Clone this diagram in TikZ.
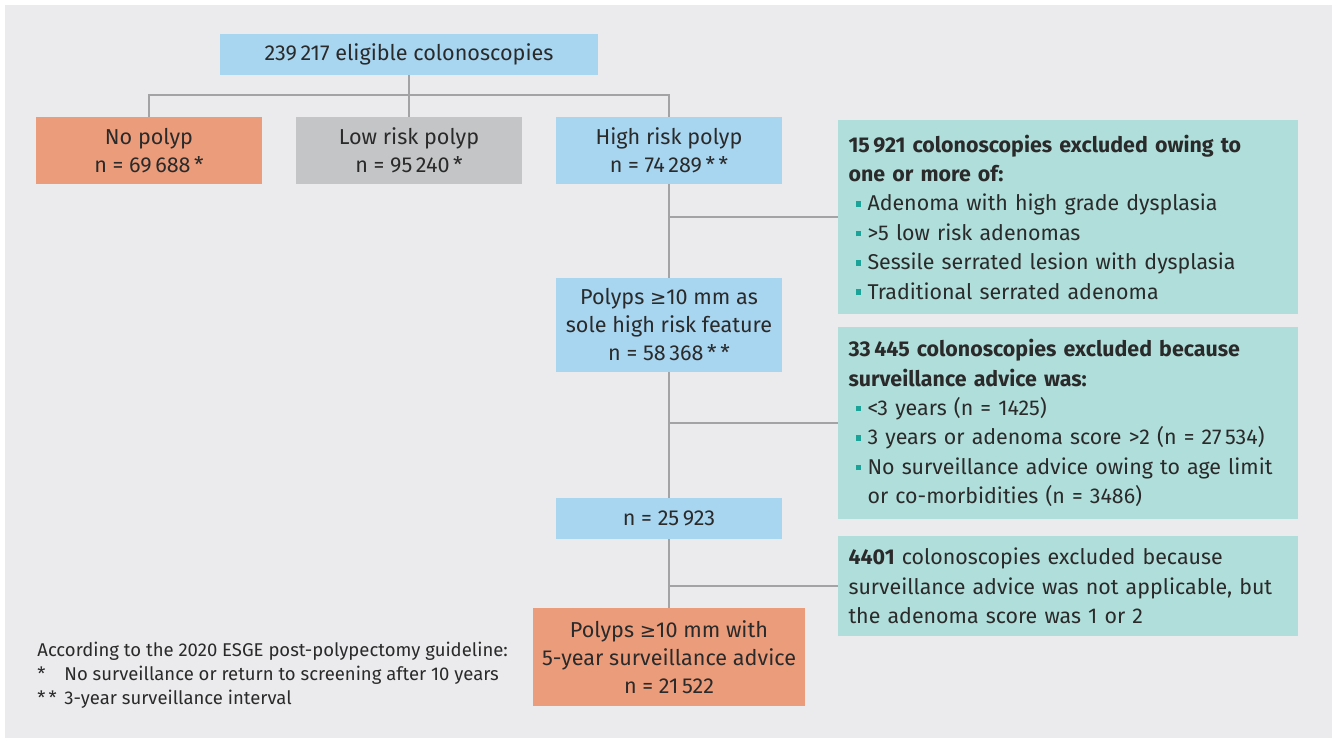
\documentclass[tikz,border=0pt]{standalone}
\usepackage{fontspec}
\setmainfont{Fira Sans}
\newfontfamily\symfont{DejaVu Sans}
\definecolor{panelc}{HTML}{EBEBEE}
\definecolor{bluec}{HTML}{A8D5F0}
\definecolor{salmonc}{HTML}{EB9C7B}
\definecolor{grayc}{HTML}{C4C5C7}
\definecolor{tealc}{HTML}{B0DEDA}
\definecolor{bulc}{HTML}{1BA39A}
\definecolor{linec}{HTML}{A3A3A5}
\definecolor{textc}{HTML}{2A2A2A}
\newcommand{\bul}{\hspace*{3.5pt}\makebox[6pt][l]{\textcolor{bulc}{\rule[2pt]{2.8pt}{2.8pt}}}}
\newcommand{\geqsym}{{\symfont\scalebox{0.9}{≥}}}
\begin{document}
\begin{tikzpicture}[x=0.5pt,y=-0.5pt,
  every node/.style={text=textc, font=\fontsize{10.8}{14}\selectfont},
  box/.style={rectangle, inner sep=0pt, align=center, minimum width=113pt},
  bluebox/.style={box, fill=bluec},
  salmonbox/.style={box, fill=salmonc},
  graybox/.style={box, fill=grayc},
  exclbox/.style={rectangle, fill=tealc, inner sep=0pt, minimum width=230pt, text width=219.5pt, align=left, font=\fontsize{10.7}{14.7}\selectfont},
  conn/.style={draw=linec, line width=1.25pt}]
\fill[white] (0,0) rectangle (1332,738);
\fill[panelc] (5,5) rectangle (1332,738);
\useasboundingbox (0,0) rectangle (1332,738);

\node[bluebox, minimum width=189pt, minimum height=20.5pt] (top) at (409,54.5) {239\,217 eligible colonoscopies};
\node[salmonbox, minimum height=33.5pt] (np) at (149,150.5) {No polyp\\n = 69\,688\,*};
\node[graybox, minimum height=33.5pt] (lr) at (409,150.5) {Low risk polyp\\n = 95\,240\,*};
\node[bluebox, minimum height=33.5pt] (hr) at (669,150.5) {High risk polyp\\n = 74\,289\,*\,*};
\node[bluebox, minimum height=47pt] (sole) at (669,325) {Polyps \geqsym10 mm as\\sole high risk feature\\n = 58\,368\,*\,*};
\node[bluebox, minimum height=20.5pt] (mid) at (669,518.5) {n = 25\,923};
\node[salmonbox, minimum width=136pt, minimum height=49pt] (fin) at (669,657) {Polyps \geqsym10 mm with\\5-year surveillance advice\\n = 21\,522};

\node[exclbox, minimum height=96.5pt] (e1) at (1068,217) {\textbf{15\,921 colonoscopies excluded owing to}\\\textbf{one or more of:}\\\bul Adenoma with high grade dysplasia\\\bul >5 low risk adenomas\\\bul Sessile serrated lesion with dysplasia\\\bul Traditional serrated adenoma};
\node[exclbox, minimum height=96pt] (e2) at (1068,423) {\textbf{33\,445 colonoscopies excluded because}\\\textbf{surveillance advice was:}\\\bul <3 years (n = 1425)\\\bul 3 years or adenoma score >2 (n = 27\,534)\\\bul No surveillance advice owing to age limit\\\hspace*{9.5pt}or co-morbidities (n = 3486)};
\node[exclbox, minimum height=50pt] (e3) at (1068,586) {\textbf{4401} colonoscopies excluded because\\surveillance advice was not applicable, but\\the adenoma score was 1 or 2};

\node[anchor=north west, inner sep=0pt, align=left, font=\fontsize{9.25}{12}\selectfont] (fn) at (37,642) {According to the 2020 ESGE post-polypectomy guideline:\\\makebox[13.5pt][l]{*}No surveillance or return to screening after 10 years\\\makebox[13.5pt][l]{*\,*}3-year surveillance interval};

\coordinate (j) at (409,95);
\draw[conn] (top.south) -- (lr.north);
\draw[conn] (np.north) -- (np.north |- j) -- (hr.north |- j) -- (hr.north);
\draw[conn] (hr.south) -- (sole.north);
\draw[conn] (sole.south) -- (mid.north);
\draw[conn] (mid.south) -- (fin.north);
\draw[conn] (e1.west) -- (e1.west -| hr.south);
\draw[conn] (e2.west) -- (e2.west -| hr.south);
\draw[conn] (e3.west) -- (e3.west -| hr.south);
\end{tikzpicture}
\end{document}
